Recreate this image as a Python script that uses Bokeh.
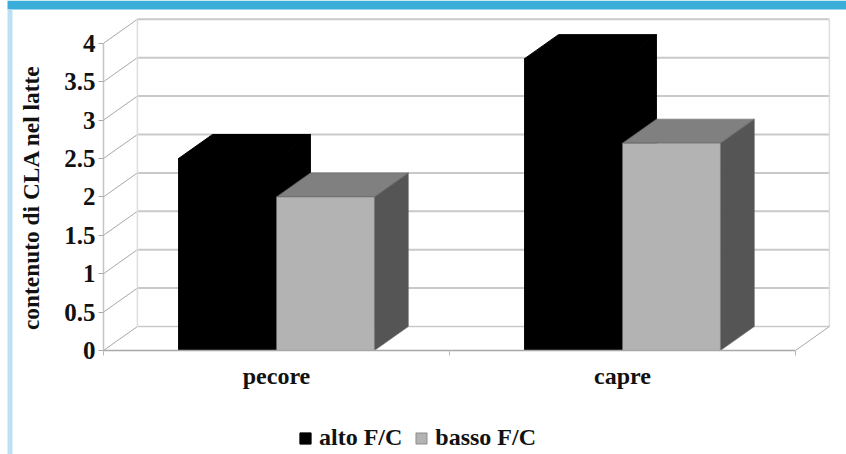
from bokeh.embed import file_html
from bokeh.resources import INLINE
from bokeh.plotting import figure
from bokeh.models import (BoxAnnotation, FixedTicker, Label, Legend, LegendItem,
                          LinearAxis, Range1d)

categories = ["pecore", "capre"]
series_names = ["alto F/C", "basso F/C"]
alto = [2.5, 3.8]
basso = [2.0, 2.7]
y_ticks = [0, 0.5, 1, 1.5, 2, 2.5, 3, 3.5, 4]
tick_labels = {0: "0", 0.5: "0.5", 1: "1", 1.5: "1.5", 2: "2", 2.5: "2.5", 3: "3", 3.5: "3.5", 4: "4"}

FONT = "Liberation Serif"
DX, DY = 0.098, 0.3125     # oblique depth of the 3-D projection, in data units
BAR = 0.283
X0, X1 = -0.5, 1.5

p = figure(width=846, height=454, output_backend="svg", toolbar_location=None,
           x_range=Range1d(-0.7977, 1.6474), y_range=Range1d(-1.354, 4.557),
           x_axis_type=None, y_axis_type=None,
           min_border_left=0, min_border_right=0, min_border_top=0, min_border_bottom=0,
           outline_line_color=None, background_fill_color="white", border_fill_color="white")
p.grid.visible = False

# back wall, side wall and floor
WALL = "#c9c9c9"
for t in y_ticks:
    p.line([X0 + DX, X1 + DX], [t + DY, t + DY], line_color=WALL,
           line_width=2 if t > 0 else 1.5)
    p.line([X0, X0 + DX], [t, t + DY], line_color="#a8a8a8", line_width=1)
p.line([X0 + DX, X0 + DX], [DY, 4 + DY], line_color="#dddddd", line_width=1.5)
p.line([X1 + DX, X1 + DX], [DY, 4 + DY], line_color="#dddddd", line_width=1.5)
p.line([X1, X1 + DX], [0, DY], line_color="#a8a8a8", line_width=1)


def draw_bar(left, h, front, top, side, edge, edge_width):
    right = left + BAR
    p.patch([left, right, right + DX, left + DX], [h, h, h + DY, h + DY],
            fill_color=top, line_color=edge, line_width=edge_width)
    p.patch([right, right + DX, right + DX, right], [0, DY, h + DY, h],
            fill_color=side, line_color=edge, line_width=edge_width)
    return p.quad(left=[left], right=[right], bottom=[0], top=[h],
                  fill_color=front, line_color=edge, line_width=edge_width)


r_alto = r_basso = None
for i in range(len(categories)):
    r_alto = draw_bar(i - BAR, alto[i], "#000000", "#000000", "#000000", "#000000", 1)
    r_basso = draw_bar(i, basso[i], "#b3b3b3", "#808080", "#555555", "#6a6a6a", 0.6)

# axes sit on the front edges of the floor
yaxis = LinearAxis(ticker=FixedTicker(ticks=y_ticks), major_label_overrides=tick_labels,
                   fixed_location=X0,
                   bounds=(0, 4), axis_line_color="#c4c4c4", axis_line_width=1.5,
                   major_tick_line_color="#a8a8a8", major_tick_out=5, major_tick_in=0,
                   minor_tick_line_color=None,
                   major_label_text_font=FONT, major_label_text_font_style="bold",
                   major_label_text_font_size="25px", major_label_text_color="#111111",
                   major_label_standoff=3)
p.add_layout(yaxis, "left")

xaxis = LinearAxis(ticker=FixedTicker(ticks=[0, 1], minor_ticks=[-0.5, 0.5, 1.5]),
                   major_label_overrides={0: categories[0], 1: categories[1]},
                   fixed_location=0,
                   bounds=(X0, X1), axis_line_color="#a8a8a8", axis_line_width=1.5,
                   major_tick_line_color=None, minor_tick_line_color="#b8b8b8",
                   minor_tick_out=5, minor_tick_in=0,
                   major_label_text_font=FONT, major_label_text_font_style="bold",
                   major_label_text_font_size="24px", major_label_text_color="#111111",
                   major_label_standoff=6)
p.add_layout(xaxis, "below")

p.add_layout(Label(x=43, y=257, x_units="screen", y_units="screen", text="contenuto di CLA nel latte",
                   angle=90, angle_units="deg", text_align="center", text_baseline="bottom",
                   text_font=FONT, text_font_style="bold", text_font_size="23.4px",
                   text_color="#111111"))

# page furniture: heading band and left rule
p.add_layout(BoxAnnotation(left=7, right=846, top=0, bottom=9, left_units="canvas", right_units="canvas",
                           top_units="canvas", bottom_units="canvas", fill_color="#39aed8",
                           fill_alpha=1, line_color=None))
p.add_layout(BoxAnnotation(left=7, right=12, top=9, bottom=454, left_units="canvas", right_units="canvas",
                           top_units="canvas", bottom_units="canvas", fill_color="#bde1f2",
                           fill_alpha=1, line_color=None))

legend = Legend(items=[LegendItem(label=series_names[0], renderers=[r_alto]),
                       LegendItem(label=series_names[1], renderers=[r_basso])],
                orientation="horizontal", location=(298, 3), background_fill_alpha=0,
                border_line_color=None, glyph_width=14, glyph_height=14, label_standoff=7,
                spacing=12, margin=0, padding=4,
                label_text_font=FONT, label_text_font_style="bold", label_text_font_size="24px",
                label_text_color="#111111")
p.add_layout(legend)

open("out.html", "w").write(file_html(p, INLINE))
